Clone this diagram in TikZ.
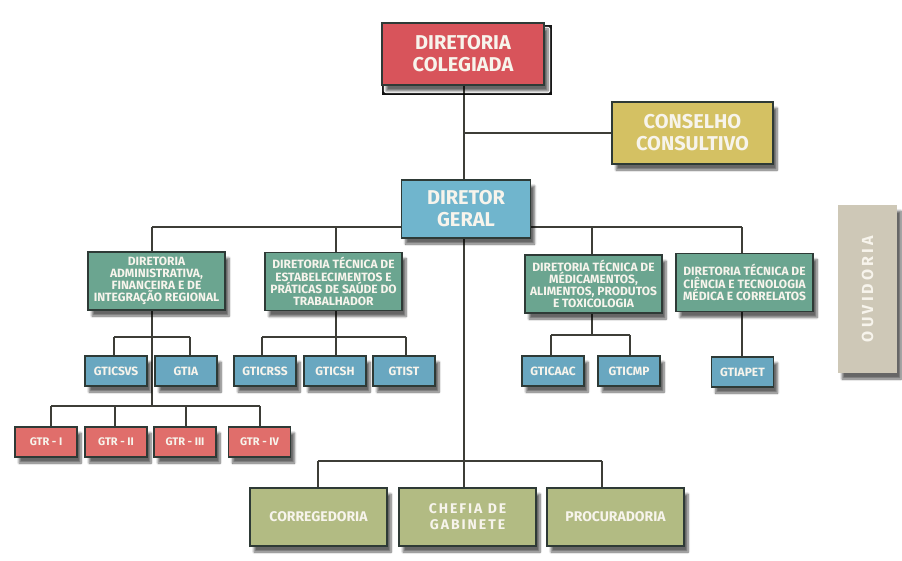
\documentclass[tikz,border=0pt]{standalone}
\usepackage{fontspec}
\setmainfont{Fira Sans}
\usetikzlibrary{shadows.blur}
\definecolor{cred}{HTML}{D8545B}
\definecolor{gtrred}{HTML}{E06E6B}
\definecolor{mustard}{HTML}{D4C163}
\definecolor{dgblue}{HTML}{70B5CD}
\definecolor{gtblue}{HTML}{69A7C0}
\definecolor{dgreen}{HTML}{6BA590}
\definecolor{olive}{HTML}{B2BB83}
\definecolor{ouvgray}{HTML}{CEC8B7}
\definecolor{boxline}{HTML}{2E3A36}
\definecolor{linecol}{HTML}{3D3D37}
\definecolor{bgdark}{HTML}{EDE6D6}
\definecolor{bglight}{HTML}{F4EFDF}
\definecolor{txt}{HTML}{F7F4EC}
\pgfdeclarelayer{bg}
\pgfdeclarelayer{lines}
\pgfsetlayers{bg,lines,main}
\tikzset{
  box/.style={draw=boxline, line width=1.2pt, text=txt, align=center, inner sep=0pt,
    blur shadow={shadow xshift=4pt, shadow yshift=-6pt, shadow blur steps=8, shadow opacity=60}},
  bigbox/.style={box, minimum height=60, font=\bfseries\fontsize{20}{22}\selectfont},
  dirbox/.style={box, fill=dgreen, minimum width=137, minimum height=58,
    font=\bfseries\fontsize{12}{12.2}\selectfont},
  gtbox/.style={box, fill=gtblue, minimum width=62, minimum height=30,
    font=\bfseries\fontsize{12}{13}\selectfont},
  gtrbox/.style={box, fill=gtrred, minimum width=62, minimum height=30,
    font=\bfseries\fontsize{11}{12}\selectfont},
  botbox/.style={box, fill=olive, minimum width=137, minimum height=58,
    font=\bfseries\fontsize{14}{16}\selectfont},
  conn/.style={draw=linecol, line width=1.3pt}
}
\begin{document}
\begin{tikzpicture}[x=1pt,y=-1pt]
\useasboundingbox (0,0) rectangle (902,561);
\begin{pgfonlayer}{bg}
  \fill[white] (0,0) rectangle (902,561);
  \fill[bglight] (7,6) rectangle (897,556);
  \fill[bgdark] (19,12) rectangle (897,86);
  \fill[bgdark] (19,185) rectangle (897,389);
  \fill[bgdark] (19,471) rectangle (897,551);
\end{pgfonlayer}

% top
\node[bigbox, fill=cred, minimum width=162, minimum height=62] (dc) at (463,54) {DIRETORIA\\COLEGIADA};
\node[bigbox, fill=mustard, minimum width=161, minimum height=62] (cc) at (692.5,133) {CONSELHO\\CONSULTIVO};
\node[bigbox, fill=dgblue, minimum width=129, minimum height=58] (dg) at (466,209) {DIRETOR\\GERAL};

% ouvidoria
\node[box, fill=ouvgray, draw=none, minimum width=59, minimum height=168] (ouv) at (867.5,289) {};
\node[rotate=90, text=txt, font=\bfseries\fontsize{16}{18}\selectfont\addfontfeatures{LetterSpace=20}] (ouvt) at (ouv.center) {OUVIDORIA};

% directorates
\node[dirbox] (da) at (156.5,281) {DIRETORIA\\ADMINISTRATIVA,\\FINANCEIRA E DE\\INTEGRAÇÃO REGIONAL};
\node[dirbox] (dte) at (333.5,281.5) {DIRETORIA TÉCNICA DE\\ESTABELECIMENTOS E\\PRÁTICAS DE SAÚDE DO\\TRABALHADOR};
\node[dirbox] (dtm) at (593.5,284) {DIRETORIA TÉCNICA DE\\MÉDICAMENTOS,\\ALIMENTOS, PRODUTOS\\E TOXICOLOGIA};
\node[dirbox] (dtc) at (744.5,282.5) {DIRETORIA TÉCNICA DE\\CIÊNCIA E TECNOLOGIA\\MÉDICA E CORRELATOS};

% GT boxes
\node[gtbox] (gticsvs) at (116,371) {GTICSVS};
\node[gtbox] (gtia) at (186,371) {GTIA};
\node[gtbox] (gticrss) at (265,371) {GTICRSS};
\node[gtbox] (gticsh) at (335,371) {GTICSH};
\node[gtbox] (gtist) at (404,371) {GTIST};
\node[gtbox] (gticaac) at (553,371) {GTICAAC};
\node[gtbox] (gticmp) at (629,371) {GTICMP};
\node[gtbox] (gtiapet) at (742.5,372) {GTIAPET};

% GTR
\node[gtrbox] (gtr1) at (46,442) {GTR - I};
\node[gtrbox] (gtr2) at (116,442) {GTR - II};
\node[gtrbox] (gtr3) at (185,442) {GTR - III};
\node[gtrbox] (gtr4) at (259.5,442) {GTR - IV};

% bottom
\node[botbox] (corr) at (318.5,517) {CORREGEDORIA};
\node[botbox, font=\bfseries\fontsize{14}{16}\selectfont\addfontfeatures{LetterSpace=14}] (chefia) at (467.5,517) {CHEFIA DE\\GABINETE};
\node[botbox] (proc) at (615.5,517) {PROCURADORIA};

% connectors
\coordinate (spine) at (464,0);
\coordinate (cjoin) at (464,133);
\coordinate (dabus) at (152,337);
\coordinate (gtrbus) at (152,406);
\coordinate (dtebus) at (336,337);
\coordinate (dtmbus) at (592,335);
\begin{pgfonlayer}{lines}
  \draw[conn] (spine |- dc.south) -- (spine |- chefia.north);
  \draw[conn] (cjoin) -- (cc.west);
  \draw[conn] (152,227) -- (742,227);
  \draw[conn] (152,227) -- (da.north -| 152,0);
  \draw[conn] (336,227) -- (dte.north -| 336,0);
  \draw[conn] (592,227) -- (dtm.north -| 592,0);
  \draw[conn] (742,227) -- (dtc.north -| 742,0);
  % DA
  \draw[conn] (da.south -| dabus) -- (gtrbus);
  \draw[conn] (114,337) -- (190,337);
  \draw[conn] (114,337) -- (gticsvs.north -| 114,0);
  \draw[conn] (190,337) -- (gtia.north -| 190,0);
  \draw[conn] (51,406) -- (260,406);
  \draw[conn] (51,406) -- (gtr1.north -| 51,0);
  \draw[conn] (115,406) -- (gtr2.north -| 115,0);
  \draw[conn] (186,406) -- (gtr3.north -| 186,0);
  \draw[conn] (260,406) -- (gtr4.north -| 260,0);
  % DTE
  \draw[conn] (dte.south -| dtebus) -- (dtebus);
  \draw[conn] (262,337) -- (406,337);
  \draw[conn] (262,337) -- (gticrss.north -| 262,0);
  \draw[conn] (336,337) -- (gticsh.north -| 336,0);
  \draw[conn] (406,337) -- (gtist.north -| 406,0);
  % DTM
  \draw[conn] (dtm.south -| dtmbus) -- (dtmbus);
  \draw[conn] (551,335) -- (630,335);
  \draw[conn] (551,335) -- (gticaac.north -| 551,0);
  \draw[conn] (630,335) -- (gticmp.north -| 630,0);
  % DTC
  \draw[conn] (dtc.south -| 742,0) -- (gtiapet.north -| 742,0);
  % bottom
  \draw[conn] (318,461) -- (602,461);
  \draw[conn] (318,461) -- (corr.north -| 318,0);
  \draw[conn] (602,461) -- (proc.north -| 602,0);
\end{pgfonlayer}
\end{tikzpicture}
\end{document}
